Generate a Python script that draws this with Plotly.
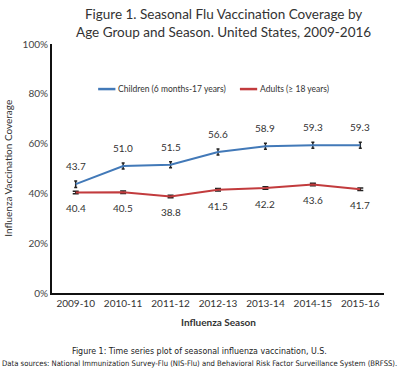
import plotly.graph_objects as go

seasons = ["2009-10", "2010-11", "2011-12", "2012-13", "2013-14", "2014-15", "2015-16"]
children = [43.7, 51.0, 51.5, 56.6, 58.9, 59.3, 59.3]
adults = [40.4, 40.5, 38.8, 41.5, 42.2, 43.6, 41.7]
children_err = [1.3, 1.2, 1.2, 1.2, 1.2, 1.2, 1.2]
adults_err = [0.5, 0.5, 0.5, 0.5, 0.5, 0.5, 0.5]
yticks = [0, 20, 40, 60, 80, 100]
ytick_text = ["0%", "20%", "40%", "60%", "80%", "100%"]
series_names = ["Children (6 months-17 years)", "Adults (≥ 18 years)"]
series_colors = ["#4279b8", "#c23b3d"]

FONT = "Lato, Open Sans, sans-serif"
TXT = "#333333"
CAP_FONT = "DejaVu Sans Condensed, Liberation Sans Narrow, Liberation Sans, sans-serif"

fig = go.Figure()
fig.add_trace(go.Scatter(
    x=seasons, y=children, mode="lines", name=series_names[0],
    line=dict(color=series_colors[0], width=2),
    error_y=dict(type="data", array=children_err, color="#222222", thickness=1.5, width=1.5),
))
fig.add_trace(go.Scatter(
    x=seasons, y=adults, mode="lines", name=series_names[1],
    line=dict(color=series_colors[1], width=2),
    error_y=dict(type="data", array=adults_err, color="#222222", thickness=1.5, width=3),
))

annotations = []
for s, v in zip(seasons, children):
    annotations.append(dict(x=s, y=v, text=f"{v:.1f}", showarrow=False, yshift=18,
                            font=dict(family=FONT, size=10, color=TXT)))
for s, v in zip(seasons, adults):
    annotations.append(dict(x=s, y=v, text=f"{v:.1f}", showarrow=False, yshift=-16,
                            font=dict(family=FONT, size=10, color=TXT)))

# manual legend
shapes = []
leg_x = [0.139, 0.566]
leg_y = 0.819
for name, col, lx in zip(series_names, series_colors, leg_x):
    shapes.append(dict(type="line", xref="paper", yref="paper", x0=lx, x1=lx + 0.052,
                       y0=leg_y, y1=leg_y, line=dict(color=col, width=2.5)))
    annotations.append(dict(xref="paper", yref="paper", x=lx + 0.054, y=leg_y, text=name,
                            xanchor="left", yanchor="middle", showarrow=False,
                            font=dict(family=FONT, size=8.5, color=TXT)))

annotations.append(dict(xref="paper", yref="paper", x=0.518, y=1.16, yanchor="top",
                        text="Figure 1. Seasonal Flu Vaccination Coverage by<br>Age Group and Season. United States, 2009-2016",
                        showarrow=False, align="center",
                        font=dict(family=FONT, size=13.5, color=TXT)))
annotations.append(dict(xref="paper", yref="paper", x=-0.135, y=0.5, text="Influenza Vaccination Coverage",
                        textangle=-90, showarrow=False, xanchor="center",
                        font=dict(family=FONT, size=10, color=TXT)))
annotations.append(dict(xref="paper", yref="paper", x=0.5, y=-0.086, yanchor="top",
                        text="<b>Influenza Season</b>", showarrow=False,
                        font=dict(family=FONT, size=10, color=TXT)))
annotations.append(dict(xref="paper", yref="paper", x=0.445, y=-0.205, yanchor="top",
                        text="Figure 1: Time series plot of seasonal influenza vaccination, U.S.",
                        showarrow=False,
                        font=dict(family=CAP_FONT, size=8.8, color="#222222")))
annotations.append(dict(xref="paper", yref="paper", x=0.445, y=-0.257, yanchor="top",
                        text="Data sources: National Immunization Survey-Flu (NIS-Flu) and Behavioral Risk Factor Surveillance System (BRFSS).",
                        showarrow=False,
                        font=dict(family=CAP_FONT, size=7.65, color="#222222")))

fig.update_layout(
    width=400, height=374,
    margin=dict(l=52, r=16, t=44, b=81),
    paper_bgcolor="white", plot_bgcolor="white",
    showlegend=False,
    annotations=annotations,
    shapes=shapes,
    xaxis=dict(type="category", range=[-0.5, 6.5], showgrid=False, showline=True,
               linecolor="#111111", linewidth=2, ticks="", zeroline=False,
               tickfont=dict(family=FONT, size=10, color=TXT)),
    yaxis=dict(range=[0, 100], tickvals=yticks, ticktext=ytick_text, showgrid=False,
               showline=True, linecolor="#111111", linewidth=2, ticks="", zeroline=False,
               tickfont=dict(family=FONT, size=10, color="#444444")),
)

fig.write_html("out.html", config={"displayModeBar": False},
               post_script="document.body.style.margin='0';document.body.style.overflow='hidden';")
